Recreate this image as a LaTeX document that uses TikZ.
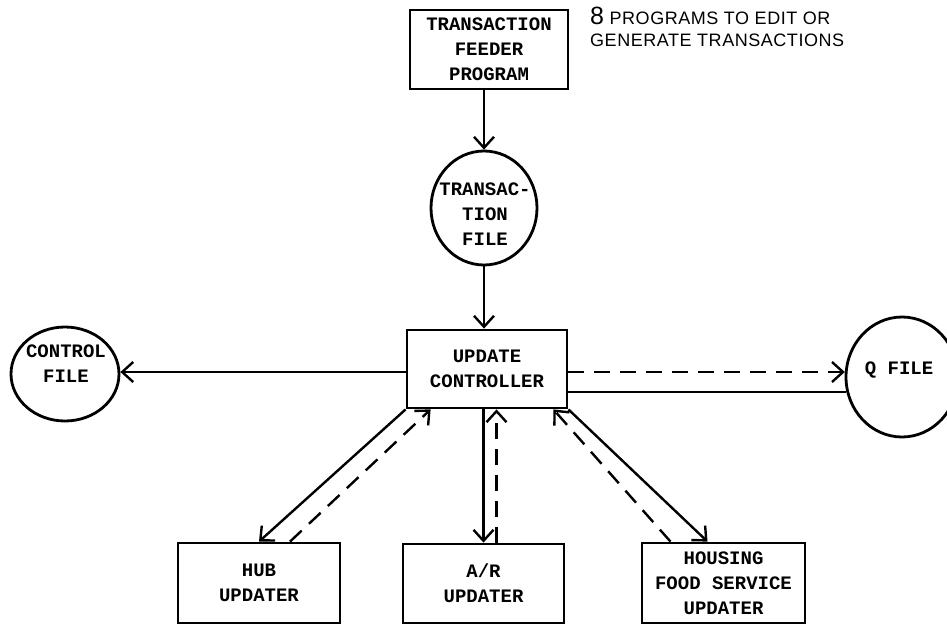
\documentclass[tikz,border=0pt]{standalone}
\usepackage{fontspec}
\setmainfont{Liberation Serif}
\newfontfamily\typerfont{Liberation Mono}
\newfontfamily\notefamily{Liberation Sans}[LetterSpace=3]
\usetikzlibrary{arrows.meta,shapes.geometric,calc}

% typewriter lettering used inside boxes and files
\newcommand\typer{\typerfont\bfseries\fontsize{19}{25}\selectfont}
\newcommand\notefnt{\notefamily\fontsize{18}{22}\selectfont}

\tikzset{
  procbox/.style={draw, line width=2.8pt, inner sep=0pt, align=center, font=\typer},
  filecirc/.style={draw, ellipse, line width=2.8pt, inner sep=0pt},
  filetext/.style={inner sep=0pt, align=center, font=\typer},
  flow/.style={line width=2.4pt, -{Straight Barb[length=11pt,width=20pt]}},
  backflow/.style={flow, dash pattern=on 16pt off 10pt},
  plainflow/.style={line width=2.4pt},
}

\begin{document}
\begin{tikzpicture}[x=1pt,y=-1pt]
  \fill[white] (0,0) rectangle (947,626);
  \useasboundingbox (0,0) rectangle (947,626);

  % processes
  \node[procbox, minimum width=158pt, minimum height=79pt] (feeder) at (489,49.5)
    {TRANSACTION\\FEEDER\\PROGRAM};
  \node[procbox, minimum width=160pt, minimum height=78pt] (uc) at (487,369)
    {UPDATE\\CONTROLLER};
  \node[procbox, minimum width=162pt, minimum height=80pt] (hub) at (259,583)
    {HUB\\UPDATER};
  \node[procbox, minimum width=161pt, minimum height=79pt] (ar) at (483.5,583.5)
    {A/R\\UPDATER};
  \node[procbox, minimum width=163pt, minimum height=80pt] (hs) at (723.5,583)
    {HOUSING\\FOOD SERVICE\\UPDATER};

  % files
  \node[filecirc, minimum width=106pt, minimum height=114pt] (tf) at (484,208) {};
  \node[filetext] (tftext) at (485,214) {TRANSAC-\\TION\\FILE};
  \node[filecirc, minimum width=108pt, minimum height=94pt] (cf) at (65,374) {};
  \node[filetext] (cftext) at (66,364) {CONTROL\\FILE};
  \node[filecirc, minimum width=112pt, minimum height=120pt] (qf) at (902,377) {};
  \node[filetext] (qftext) at (899,370.5) {Q FILE};

  % note
  \node[anchor=base west, inner sep=0pt, font=\notefnt] (note1) at (590,25)
    {{\fontsize{25}{25}\selectfont 8} PROGRAMS TO EDIT OR};
  \node[anchor=base west, inner sep=0pt, font=\notefnt] (note2) at (590,47)
    {GENERATE TRANSACTIONS};

  % main flow
  \draw[flow] (feeder.south -| tf.north) -- (tf.north);
  \draw[flow] (tf.south) -- (tf.south |- uc.north);
  \draw[flow] ($(uc.west)+(0,3)$) coordinate (ucw) -- (ucw -| cf.east);

  % queue file
  \draw[backflow] (qf.175 -| uc.east) -- (qf.175);
  \draw[plainflow] (qf.195 -| uc.east) -- (qf.195);

  % updaters
  \draw[flow] (uc.south west) -- (hub.north);
  \draw[backflow] ($(hub.north)+(31,0)$) -- ($(uc.south west)+(25,0)$);

  \draw[flow] (ar.north |- uc.south) -- (ar.north);
  \draw[backflow] ($(ar.north)+(13,0)$) coordinate (ard) -- (ard |- uc.south);

  \draw[flow] (uc.south east) -- ($(hs.north)+(-16,0)$);
  \draw[backflow] ($(hs.north)+(-53,0)$) -- ($(uc.south east)+(-15,0)$);
\end{tikzpicture}
\end{document}
